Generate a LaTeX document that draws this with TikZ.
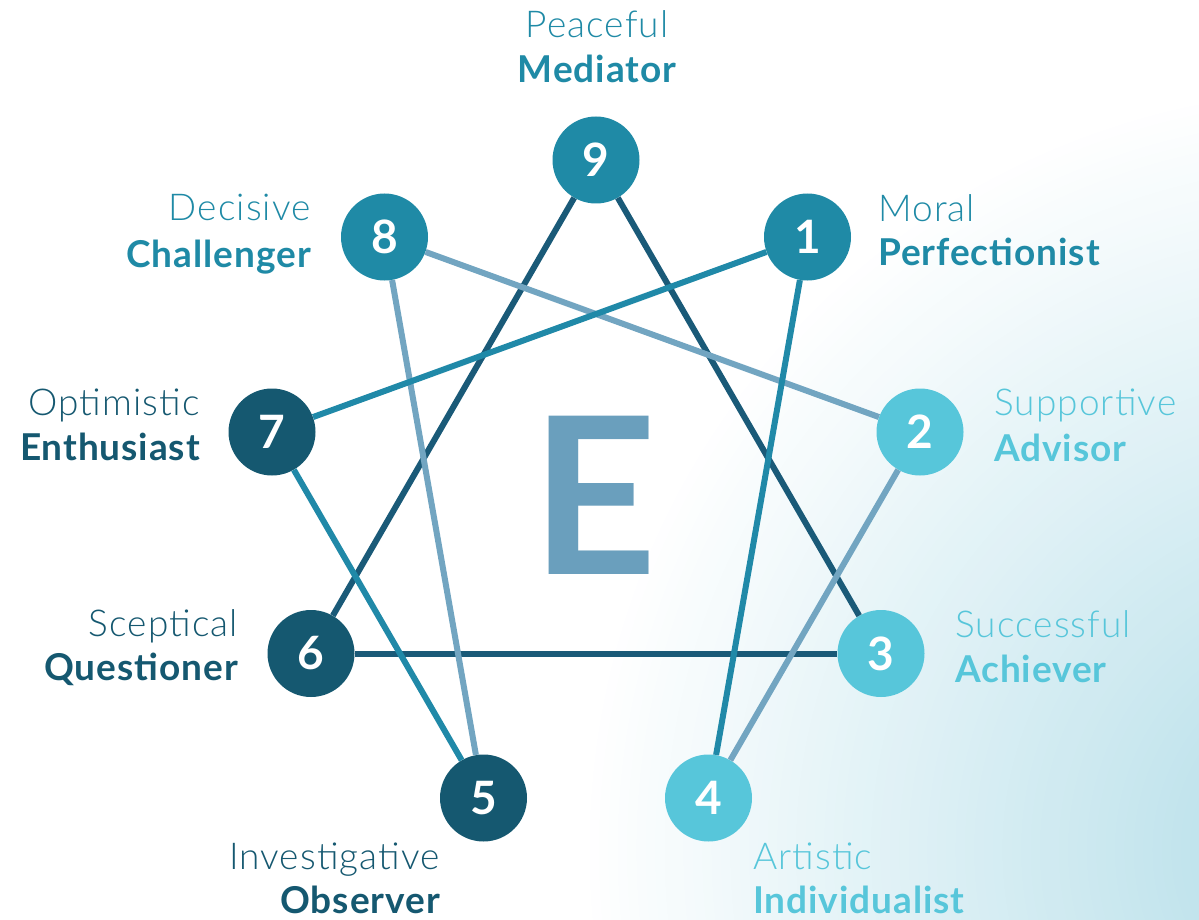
\documentclass[tikz,border=0pt]{standalone}
\usepackage{fontspec}
\setmainfont{Lato}
\newfontfamily\lightfont[LetterSpace=3]{Lato Light}
\newfontfamily\boldfont[LetterSpace=2.5]{Lato Bold}
\definecolor{cteal}{HTML}{1F8AA6}
\definecolor{cdark}{HTML}{155870}
\definecolor{clight}{HTML}{57C6DA}
\definecolor{ldark}{HTML}{1A5A78}
\definecolor{lteal}{HTML}{2089A8}
\definecolor{lgrey}{HTML}{72A5C1}
\definecolor{cE}{HTML}{6A9FBD}
\definecolor{bgc}{HTML}{B2DDE8}
\tikzset{
  num/.style={circle, minimum size=87pt, inner sep=0pt, text=white, font=\bfseries\fontsize{46}{46}\selectfont},
  lbl/.style={inner sep=0pt, font=\lightfont\fontsize{37}{40}\selectfont},
  bld/.style={inner sep=0pt, font=\boldfont\fontsize{37}{40}\selectfont},
  conn/.style={line width=6pt},
}
\begin{document}
\begin{tikzpicture}[x=1pt,y=-1pt]
\useasboundingbox (0,0) rectangle (1199,920);
\fill[white] (0,0) rectangle (1199,920);
\begin{scope}
\clip (0,0) rectangle (1199,920);
\foreach \i in {0,...,80}{
  \pgfmathsetmacro\rr{760*(1-\i/81)}
  \pgfmathsetmacro\pp{100*(\i+1)/81}
  \fill[bgc!\pp!white] (1350,850) circle[radius=\rr pt];
}
\end{scope}
% centre letter
\node[text=cE, inner sep=0pt, font=\bfseries\fontsize{219}{219}\selectfont] (E) at (594,495.5) {E};
% circles
\node[num, fill=cteal] (n9) at (596,160) {9};
\node[num, fill=cteal] (n1) at (807.5,237) {1};
\node[num, fill=clight] (n2) at (920,432) {2};
\node[num, fill=clight] (n3) at (881,653.5) {3};
\node[num, fill=clight] (n4) at (708.5,798) {4};
\node[num, fill=cdark] (n5) at (483.5,798) {5};
\node[num, fill=cdark] (n6) at (311,653.5) {6};
\node[num, fill=cdark] (n7) at (272,432) {7};
\node[num, fill=cteal] (n8) at (384.5,237) {8};
% connectors
\draw[conn, ldark] (n9) -- (n6);
\draw[conn, ldark] (n9) -- (n3);
\draw[conn, ldark] (n6) -- (n3);
\draw[conn, lgrey] (n8) -- (n2);
\draw[conn, lgrey] (n8) -- (n5);
\draw[conn, lgrey] (n2) -- (n4);
\draw[conn, lteal] (n1) -- (n7);
\draw[conn, lteal] (n1) -- (n4);
\draw[conn, lteal] (n7) -- (n5);
% labels
\node[lbl, text=cteal, anchor=base] (t9a) at (597,38) {Peaceful};
\node[bld, text=cteal, anchor=base] (t9b) at (597,83) {Mediator};
\node[lbl, text=cteal, anchor=base east] (t8a) at (311,221) {Decisive};
\node[bld, text=cteal, anchor=base east] (t8b) at (311,267) {Challenger};
\node[lbl, text=cteal, anchor=base west] (t1a) at (878,222) {Moral};
\node[bld, text=cteal, anchor=base west] (t1b) at (878,265) {Perfectionist};
\node[lbl, text=cdark, anchor=base east] (t7a) at (200,415) {Optimistic};
\node[bld, text=cdark, anchor=base east] (t7b) at (200,460) {Enthusiast};
\node[lbl, text=clight, anchor=base west] (t2a) at (994,415) {Supportive};
\node[bld, text=clight, anchor=base west] (t2b) at (994,461) {Advisor};
\node[lbl, text=cdark, anchor=base east] (t6a) at (238,636) {Sceptical};
\node[bld, text=cdark, anchor=base east] (t6b) at (238,680) {Questioner};
\node[lbl, text=clight, anchor=base west] (t3a) at (955,637) {Successful};
\node[bld, text=clight, anchor=base west] (t3b) at (955,682) {Achiever};
\node[lbl, text=cdark, anchor=base east] (t5a) at (440,869) {Investigative};
\node[bld, text=cdark, anchor=base east] (t5b) at (440,913) {Observer};
\node[lbl, text=clight, anchor=base west] (t4a) at (753,869) {Artistic};
\node[bld, text=clight, anchor=base west] (t4b) at (753,913) {Individualist};
\end{tikzpicture}
\end{document}
